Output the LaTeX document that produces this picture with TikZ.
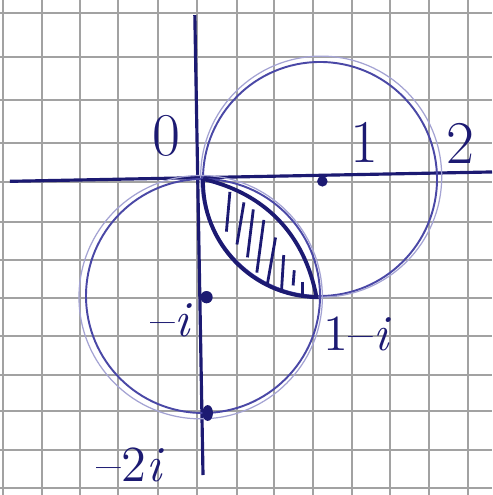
\documentclass[tikz,border=0pt]{standalone}
\usepackage{amsmath}
\usepackage{tikz}
\usetikzlibrary{calc,shapes.geometric}
\definecolor{sk-ink}{HTML}{1C1A72}
\definecolor{sk-pen}{HTML}{4A48A6}
\definecolor{sk-grid}{HTML}{A2A2A2}

\begin{document}
\begin{tikzpicture}
    % Squared paper
    \fill[white] (0,0) rectangle (4.92,4.95);
    \useasboundingbox (0,0) rectangle (4.92,4.95);
    \foreach \x in {0.03,0.42,0.80,1.18,1.58,1.97,2.37,2.74,3.13,3.52,3.90,4.29,4.68}
        \draw[sk-grid, line width=0.4pt] (\x,0) -- (\x,4.95);
    \foreach \y in {4.82,4.38,3.95,3.52,3.13,2.73,2.35,1.97,1.59,1.20,0.84,0.45,0.07}
        \draw[sk-grid, line width=0.4pt] (0,\y) -- (4.92,\y);
    \begin{scope}[shift={(2.03,3.16)}, scale=1.17,
        dot/.style={circle, fill=sk-ink, inner sep=0pt, minimum size=#1},
        lbl/.style={sk-ink, font=\Large}]
        % Axes
        \draw[sk-ink, line width=0.9pt] (-1.65,-0.02) -- (2.47,0.06);
        \draw[sk-ink, line width=0.9pt] (-0.07,1.40) -- (0.00,-2.53);
        % |z-1| <= 1 and |z+i| <= 1
        \draw[sk-pen, line width=0.55pt] (1,0) circle (1);
        \draw[sk-pen!50, line width=0.35pt] (1.01,0.02) circle (1.03);
        \draw[sk-pen, line width=0.55pt] (0,-1) circle (1);
        \draw[sk-pen!50, line width=0.35pt] (-0.02,-1.01) circle (1.04);
        % Intersection, hatched
        \draw[sk-ink, line width=1.1pt] (0,0) to[bend left=33] (0.97,-1.01) to[bend left=45] (0,0);
        \foreach \xa/\ya/\xb/\yb in {0.23/-0.11/0.20/-0.45, 0.35/-0.20/0.29/-0.56,
            0.43/-0.26/0.38/-0.67, 0.52/-0.35/0.46/-0.80, 0.62/-0.50/0.55/-0.90,
            0.69/-0.65/0.67/-0.97, 0.78/-0.78/0.77/-0.91, 0.85/-0.88/0.85/-0.98}
            \draw[sk-ink, line width=0.8pt] (\xa,\ya) -- (\xb,\yb);
        % Marked points
        \node[dot=3pt] (pOne) at (1.02,-0.02) {};
        \node[dot=3.5pt] (pMinI) at (0.03,-1.01) {};
        \node[ellipse, fill=sk-ink, inner sep=0pt, minimum width=3pt, minimum height=4.5pt] (pMinTwoI) at (0.04,-2.00) {};
        \node[lbl, font=\LARGE] (lO) at (-0.31,0.37) {$0$};
        \node[lbl, font=\LARGE] (lOne) at (1.38,0.31) {$1$};
        \node[lbl, font=\LARGE] (lTwo) at (2.20,0.30) {$2$};
        \node[lbl] (lMinI) at (-0.27,-1.21) {--\textit{i}};
        \node[lbl] (lOneMinI) at (1.32,-1.32) {1--\textit{i}};
        \node[lbl] (lMinTwoI) at (-0.62,-2.44) {--2\textit{i}};
    \end{scope}
\end{tikzpicture}
\end{document}
